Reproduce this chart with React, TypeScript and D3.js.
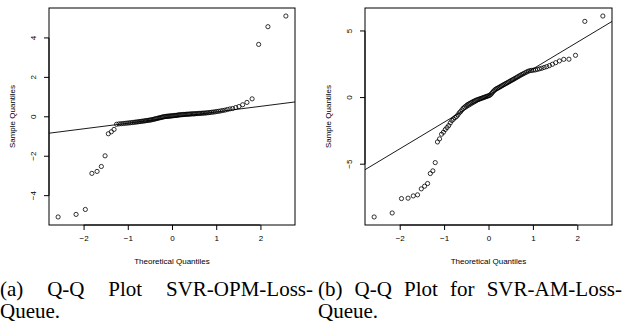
import React, { useEffect, useRef } from "react";
import * as d3 from "d3";

// theoretical normal quantiles (n = 100)
const theoretical = [
  -2.576, -2.17, -1.96, -1.812, -1.695, -1.598, -1.514, -1.44, -1.372, -1.311,
  -1.254, -1.2, -1.15, -1.103, -1.058, -1.015, -0.974, -0.935, -0.896, -0.86,
  -0.824, -0.789, -0.755, -0.722, -0.69, -0.659, -0.628, -0.598, -0.568, -0.539,
  -0.51, -0.482, -0.454, -0.426, -0.399, -0.372, -0.345, -0.319, -0.292, -0.266,
  -0.24, -0.215, -0.189, -0.164, -0.138, -0.113, -0.088, -0.063, -0.038, -0.0125,
  0.0125, 0.038, 0.063, 0.088, 0.113, 0.138, 0.164, 0.189, 0.215, 0.24,
  0.266, 0.292, 0.319, 0.345, 0.372, 0.399, 0.426, 0.454, 0.482, 0.51,
  0.539, 0.568, 0.598, 0.628, 0.659, 0.69, 0.722, 0.755, 0.789, 0.824,
  0.86, 0.896, 0.935, 0.974, 1.015, 1.058, 1.103, 1.15, 1.2, 1.254,
  1.311, 1.372, 1.44, 1.514, 1.598, 1.695, 1.812, 1.96, 2.17, 2.576,
];

// sorted sample quantiles, SVR-OPM-Loss-Queue
const sampleOPM = [
  -5.08, -4.95, -4.7, -2.87, -2.77, -2.52, -1.98, -0.86, -0.76, -0.64,
  -0.38, -0.36, -0.35, -0.34, -0.33, -0.32, -0.31, -0.3, -0.29, -0.28,
  -0.27, -0.26, -0.25, -0.24, -0.23, -0.22, -0.21, -0.2, -0.19, -0.18,
  -0.17, -0.16, -0.15, -0.13, -0.12, -0.1, -0.09, -0.07, -0.06, -0.04,
  -0.03, -0.01, 0.0, 0.01, 0.02, 0.03, 0.03, 0.04, 0.04, 0.05,
  0.05, 0.06, 0.07, 0.07, 0.08, 0.09, 0.1, 0.1, 0.11, 0.11,
  0.12, 0.12, 0.13, 0.13, 0.13, 0.14, 0.14, 0.15, 0.15, 0.15,
  0.16, 0.16, 0.17, 0.17, 0.18, 0.18, 0.19, 0.19, 0.2, 0.21,
  0.22, 0.23, 0.24, 0.25, 0.27, 0.28, 0.3, 0.32, 0.34, 0.37,
  0.4, 0.42, 0.47, 0.52, 0.61, 0.73, 0.91, 3.67, 4.57, 5.11,
];

// sorted sample quantiles, SVR-AM-Loss-Queue
const sampleAM = [
  -8.96, -8.66, -7.58, -7.55, -7.38, -7.3, -6.85, -6.65, -6.45, -5.7,
  -5.5, -4.88, -3.33, -3.1, -2.75, -2.6, -2.4, -2.25, -2.1, -1.9,
  -1.72, -1.62, -1.5, -1.42, -1.3, -1.15, -1.05, -0.92, -0.8, -0.72,
  -0.64, -0.56, -0.5, -0.45, -0.4, -0.35, -0.3, -0.26, -0.22, -0.18,
  -0.15, -0.12, -0.09, -0.06, -0.03, 0.0, 0.03, 0.06, 0.09, 0.12,
  0.15, 0.2, 0.28, 0.38, 0.48, 0.56, 0.63, 0.68, 0.72, 0.77,
  0.82, 0.87, 0.92, 0.97, 1.02, 1.07, 1.12, 1.17, 1.22, 1.28,
  1.33, 1.38, 1.44, 1.5, 1.56, 1.62, 1.68, 1.74, 1.8, 1.86,
  1.92, 1.98, 2.02, 2.04, 2.06, 2.08, 2.12, 2.16, 2.2, 2.26,
  2.32, 2.4, 2.5, 2.62, 2.75, 2.87, 2.88, 3.17, 5.72, 6.12,
];

const xTicks = [-2, -1, 0, 1, 2];
const yTicksOPM = [-4, -2, 0, 2, 4];
const yTicksAM = [-5, 0, 5];

const qqLineOPM = { intercept: -0.04, slope: 0.285 };
const qqLineAM = { intercept: 0.15, slope: 2.0 };

const captionA = [["(a)", "Q-Q", "Plot", "SVR-OPM-Loss-"], ["Queue."]];
const captionB = [["(b)", "Q-Q", "Plot", "for", "SVR-AM-Loss-"], ["Queue."]];

const W = 623;
const H = 326;
const SANS = "'Liberation Sans', Arial, Helvetica, sans-serif";
const SERIF = "'Liberation Serif', 'Times New Roman', serif";

const fmt = (t: number) => (t < 0 ? "\u2212" + Math.abs(t) : String(t));

// R style range: extend data extent by 4%
const rRange = (v: number[]) => {
  const [lo, hi] = d3.extent(v) as [number, number];
  const pad = (hi - lo) * 0.04;
  return [lo - pad, hi + pad];
};

function drawPanel(svg: any, id: string, box: any, ys: number[], yTicks: number[], line: any) {
  const x = d3.scaleLinear().domain(rRange(theoretical)).range([box.left, box.right]);
  const y = d3.scaleLinear().domain(rRange(ys)).range([box.bottom, box.top]);
  const g = svg.append("g");

  g.append("clipPath").attr("id", id)
    .append("rect")
    .attr("x", box.left).attr("y", box.top)
    .attr("width", box.right - box.left).attr("height", box.bottom - box.top);

  // qq line
  const [x0, x1] = x.domain();
  g.append("line")
    .attr("clip-path", `url(#${id})`)
    .attr("x1", x(x0)).attr("y1", y(line.intercept + line.slope * x0))
    .attr("x2", x(x1)).attr("y2", y(line.intercept + line.slope * x1))
    .attr("stroke", "#000").attr("stroke-width", 0.9);

  // points
  g.selectAll(".pt")
    .data(theoretical.map((t, i) => [t, ys[i]]))
    .enter()
    .append("circle")
    .attr("cx", (d: number[]) => x(d[0]))
    .attr("cy", (d: number[]) => y(d[1]))
    .attr("r", 2.1)
    .attr("fill", "none")
    .attr("stroke", "#000")
    .attr("stroke-width", 0.8);

  // box
  g.append("rect")
    .attr("x", box.left).attr("y", box.top)
    .attr("width", box.right - box.left).attr("height", box.bottom - box.top)
    .attr("fill", "none").attr("stroke", "#000").attr("stroke-width", 1);

  // x axis
  const xa = g.append("g").attr("transform", `translate(0, ${box.bottom})`)
    .call(d3.axisBottom(x).tickValues(xTicks).tickSize(5).tickPadding(5).tickFormat(fmt as any).tickSizeOuter(0));
  xa.select(".domain").attr("d", `M${x(xTicks[0])},0H${x(xTicks[xTicks.length - 1])}`);
  xa.selectAll("text").style("font-size", "8px").style("font-family", SANS).attr("fill", "#000");

  // y axis (labels rotated, R style)
  const ya = g.append("g").attr("transform", `translate(${box.left}, 0)`);
  ya.append("path")
    .attr("d", `M0,${y(yTicks[0])}V${y(yTicks[yTicks.length - 1])}`)
    .attr("stroke", "#000").attr("fill", "none");
  yTicks.forEach((t) => {
    ya.append("line").attr("x1", 0).attr("x2", -5).attr("y1", y(t)).attr("y2", y(t))
      .attr("stroke", "#000");
    ya.append("text")
      .attr("transform", `translate(-13, ${y(t)}) rotate(-90)`)
      .attr("text-anchor", "middle")
      .style("font-size", "8px").style("font-family", SANS)
      .text(fmt(t));
  });

  // axis titles
  g.append("text")
    .attr("x", (box.left + box.right) / 2).attr("y", box.bottom + 39)
    .attr("text-anchor", "middle")
    .style("font-size", "8px").style("font-family", SANS)
    .text("Theoretical Quantiles");
  g.append("text")
    .attr("transform", `translate(${box.left - 34}, ${(box.top + box.bottom) / 2}) rotate(-90)`)
    .attr("text-anchor", "middle")
    .style("font-size", "8px").style("font-family", SANS)
    .text("Sample Quantiles");
}

function drawCaption(svg: any, lines: string[][], left: number, right: number) {
  const baselines = [296, 318];
  lines.forEach((words, li) => {
    const nodes = words.map((w) =>
      svg.append("text").attr("y", baselines[li])
        .style("font-size", "21px").style("font-family", SERIF).text(w)
    );
    const widths = nodes.map((n: any) => n.node().getComputedTextLength());
    const justify = li < lines.length - 1 && words.length > 1;
    const gap = justify ? (right - left - d3.sum(widths)) / (words.length - 1) : 5;
    let cx = left;
    nodes.forEach((n: any, i: number) => {
      n.attr("x", cx);
      cx += widths[i] + gap;
    });
  });
}

export default function App() {
  const ref = useRef<SVGSVGElement>(null);

  useEffect(() => {
    const svg = d3.select(ref.current);
    svg.selectAll("*").remove();

    drawPanel(svg, "clipA", { left: 49, right: 295, top: 8, bottom: 225 }, sampleOPM, yTicksOPM, qqLineOPM);
    drawPanel(svg, "clipB", { left: 365, right: 612, top: 8, bottom: 225 }, sampleAM, yTicksAM, qqLineAM);

    drawCaption(svg, captionA, 0, 313);
    drawCaption(svg, captionB, 318, 622);
  }, []);

  return (
    <svg
      ref={ref}
      width={W}
      height={H}
      style={{ position: "absolute", left: 0, top: 0, background: "#fff" }}
    />
  );
}
